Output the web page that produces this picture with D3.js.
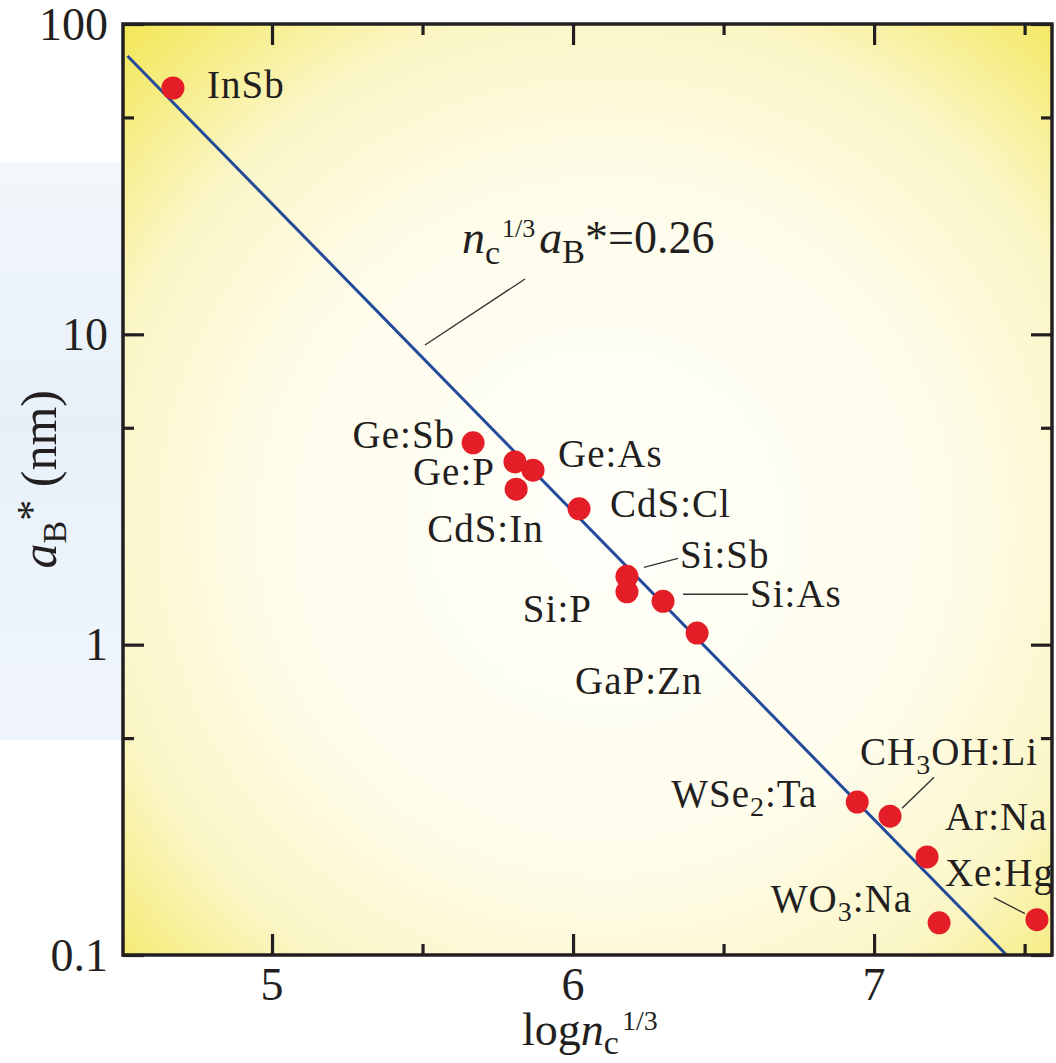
<!DOCTYPE html>
<html>
<head>
<meta charset="utf-8">
<script src="https://cdn.jsdelivr.net/npm/d3@7"></script>
<style>
  html, body { margin: 0; padding: 0; background: #fff; }
  svg, svg text { font-family: "Liberation Serif", "Times New Roman", "DejaVu Serif", serif; }
</style>
</head>
<body>
<svg id="chart" width="1056" height="1063"></svg>
<script>
// values
const materials = ["InSb", "Ge:Sb", "Ge:P", "Ge:As", "CdS:In", "CdS:Cl", "Si:Sb", "Si:P",
    "Si:As", "GaP:Zn", "WSe_2:Ta", "CH_3OH:Li", "Ar:Na", "WO_3:Na", "Xe:Hg"];
const logNc = [4.671, 5.668, 5.807, 5.867, 5.811, 6.020, 6.179, 6.179,
    6.299, 6.412, 6.944, 7.053, 7.176, 7.216, 7.541];
const aB = [62.2, 4.47, 3.88, 3.65, 3.17, 2.74, 1.66, 1.48,
    1.38, 1.09, 0.311, 0.280, 0.207, 0.127, 0.130];

// fit line n_c^(1/3) a_B* = 0.26, two end points
const fitX = [4.52, 7.44];
const fitY = [78.9, 0.1];

const xMajor = [5, 6, 7];
const xMinor = [5.5, 6.5, 7.5];
const yMajor = [0.1, 1, 10, 100];
const yMinor = [0.5, 5, 50];

// label placement relative to each point (px)
const labelPos = {
    "InSb": {dx: 34, dy: 10, anchor: "start"},
    "Ge:Sb": {dx: -18, dy: 5, anchor: "end"},
    "Ge:P": {dx: -20, dy: 23, anchor: "end"},
    "Ge:As": {dx: 25, dy: -3, anchor: "start"},
    "CdS:In": {dx: -89, dy: 53, anchor: "start"},
    "CdS:Cl": {dx: 31, dy: 8, anchor: "start"},
    "Si:Sb": {dx: 53, dy: -8, anchor: "start", lead: [17, -9, 51, -18]},
    "Si:P": {dx: -35, dy: 30, anchor: "end"},
    "Si:As": {dx: 87, dy: 6, anchor: "start", lead: [20, -7, 85, -7]},
    "GaP:Zn": {dx: -122, dy: 61, anchor: "start"},
    "WSe_2:Ta": {dx: -40, dy: 5, anchor: "end"},
    "CH_3OH:Li": {dx: -30, dy: -51, anchor: "start", lead: [12, -8, 44, -39]},
    "Ar:Na": {dx: 18, dy: -27, anchor: "start"},
    "WO_3:Na": {dx: -27, dy: -11, anchor: "end"},
    "Xe:Hg": {dx: -92, dy: -34, anchor: "start", lead: [-43, -22, -12, -6]}
};

const width = 1056;
const height = 1063;
const plotLeft = 123;
const plotRight = 1052;
const plotTop = 24;
const plotBottom = 955;
const ink = "#231f20";
const serif = "'Liberation Serif', 'Times New Roman', 'DejaVu Serif', serif";

const x = d3.scaleLinear()
    .domain([4.505, 7.591])
    .range([plotLeft, plotRight]);

const y = d3.scaleLog()
    .domain([0.1, 100])
    .range([plotBottom, plotTop]);

const svg = d3.select("#chart")
    .attr("viewBox", [0, 0, width, height])
    .attr("font-family", serif);

const defs = svg.append("defs");

const bg = defs.append("radialGradient")
    .attr("id", "bgGrad")
    .attr("cx", "52%").attr("cy", "54%").attr("r", "74%");
bg.append("stop").attr("offset", "0%").attr("stop-color", "#fffffb");
bg.append("stop").attr("offset", "50%").attr("stop-color", "#fefcea");
bg.append("stop").attr("offset", "75%").attr("stop-color", "#fbf6c6");
bg.append("stop").attr("offset", "100%").attr("stop-color", "#f3e75a");

const blue = defs.append("linearGradient")
    .attr("id", "blueGrad")
    .attr("x1", 0).attr("y1", 0).attr("x2", 0).attr("y2", 1);
blue.append("stop").attr("offset", "0%").attr("stop-color", "#f3f7fc");
blue.append("stop").attr("offset", "45%").attr("stop-color", "#e7f0f9");
blue.append("stop").attr("offset", "100%").attr("stop-color", "#f1f6fc");

// pale blue band behind the y axis
svg.append("rect")
    .attr("x", 0).attr("y", 162)
    .attr("width", plotLeft).attr("height", 578)
    .attr("fill", "url(#blueGrad)");

svg.append("rect")
    .attr("x", plotLeft).attr("y", plotTop)
    .attr("width", plotRight - plotLeft).attr("height", plotBottom - plotTop)
    .attr("fill", "url(#bgGrad)");

// ticks on all four sides, pointing inward
function tickAxis(axis, values, size, transform) {
    svg.append("g")
        .attr("transform", transform)
        .call(axis.tickValues(values).tickSize(-size).tickFormat(""))
        .call(g => g.select(".domain").remove())
        .call(g => g.selectAll("line").attr("stroke", ink).attr("stroke-width", 3.2));
}
tickAxis(d3.axisBottom(x), xMajor, 21, `translate(0,${plotBottom})`);
tickAxis(d3.axisBottom(x), xMinor, 11, `translate(0,${plotBottom})`);
tickAxis(d3.axisTop(x), xMajor, 21, `translate(0,${plotTop})`);
tickAxis(d3.axisTop(x), xMinor, 11, `translate(0,${plotTop})`);
tickAxis(d3.axisLeft(y), yMajor, 21, `translate(${plotLeft},0)`);
tickAxis(d3.axisLeft(y), yMinor, 11, `translate(${plotLeft},0)`);
tickAxis(d3.axisRight(y), yMajor, 21, `translate(${plotRight},0)`);
tickAxis(d3.axisRight(y), yMinor, 11, `translate(${plotRight},0)`);

// tick labels
svg.append("g")
    .selectAll("text")
    .data(xMajor)
    .join("text")
    .attr("font-family", serif)
    .attr("x", d => x(d))
    .attr("y", 1000)
    .attr("text-anchor", "middle")
    .attr("font-size", 46)
    .attr("fill", ink)
    .text(d => d);

svg.append("g")
    .selectAll("text")
    .data(yMajor)
    .join("text")
    .attr("font-family", serif)
    .attr("x", 108)
    .attr("y", d => y(d))
    .attr("dy", "0.34em")
    .attr("text-anchor", "end")
    .attr("font-size", 46)
    .attr("fill", ink)
    .text(d => d);

// fit line
svg.append("path")
    .datum(d3.zip(fitX, fitY))
    .attr("fill", "none")
    .attr("stroke", "#234a9b")
    .attr("stroke-width", 3)
    .attr("d", d3.line().x(d => x(d[0])).y(d => y(d[1])));

// frame
svg.append("rect")
    .attr("x", plotLeft).attr("y", plotTop)
    .attr("width", plotRight - plotLeft).attr("height", plotBottom - plotTop)
    .attr("fill", "none")
    .attr("stroke", ink)
    .attr("stroke-width", 3.5);

// points
const points = materials.map((m, i) => ({name: m, x: logNc[i], y: aB[i]}));

svg.append("g")
    .attr("fill", "#e41e26")
    .selectAll("circle")
    .data(points)
    .join("circle")
    .attr("cx", d => x(d.x))
    .attr("cy", d => y(d.y))
    .attr("r", 11.5);

// leader lines
svg.append("g")
    .attr("stroke", "#333")
    .attr("stroke-width", 1.4)
    .selectAll("line")
    .data(points.filter(d => labelPos[d.name].lead))
    .join("line")
    .attr("x1", d => x(d.x) + labelPos[d.name].lead[0])
    .attr("y1", d => y(d.y) + labelPos[d.name].lead[1])
    .attr("x2", d => x(d.x) + labelPos[d.name].lead[2])
    .attr("y2", d => y(d.y) + labelPos[d.name].lead[3]);

// point labels, "_3" means a one-character subscript
const labels = svg.append("g")
    .attr("font-size", 39)
    .attr("letter-spacing", 1)
    .attr("fill", ink)
    .selectAll("text")
    .data(points)
    .join("text")
    .attr("font-family", serif)
    .attr("x", d => x(d.x) + labelPos[d.name].dx)
    .attr("y", d => y(d.y) + labelPos[d.name].dy)
    .attr("text-anchor", d => labelPos[d.name].anchor);

labels.each(function(d) {
    const t = d3.select(this);
    const parts = d.name.split("_");
    t.append("tspan").text(parts[0]);
    if (parts.length > 1) {
        t.append("tspan").attr("font-size", 28).attr("dy", 9).text(parts[1][0]);
        t.append("tspan").attr("dy", -9).text(parts[1].slice(1));
    }
});

// equation annotation
svg.append("line")
    .attr("x1", 525).attr("y1", 279)
    .attr("x2", 425).attr("y2", 345)
    .attr("stroke", "#333")
    .attr("stroke-width", 1.4);

const eq = svg.append("text")
    .attr("font-family", serif)
    .attr("x", 462).attr("y", 253)
    .attr("font-size", 46)
    .attr("fill", ink);
eq.append("tspan").attr("font-style", "italic").text("n");
eq.append("tspan").attr("font-size", 34).attr("dy", 11).text("c");
eq.append("tspan").attr("font-size", 26).attr("dy", -27).attr("dx", 2).text("1/3");
eq.append("tspan").attr("font-style", "italic").attr("dy", 16).attr("dx", 4).text("a");
eq.append("tspan").attr("font-size", 34).attr("dy", 10).text("B");
eq.append("tspan").attr("dy", -10).text("*=0.26");

// x axis title
const xt = svg.append("text")
    .attr("font-family", serif)
    .attr("x", 522).attr("y", 1045)
    .attr("font-size", 46)
    .attr("fill", ink);
xt.append("tspan").text("log");
xt.append("tspan").attr("font-style", "italic").text("n");
xt.append("tspan").attr("font-size", 34).attr("dy", 9).text("c");
xt.append("tspan").attr("font-size", 28).attr("dy", -24).attr("dx", 3).text("1/3");

// y axis title
const yt = svg.append("text")
    .attr("font-family", serif)
    .attr("transform", "translate(56,390) rotate(-90)")
    .attr("text-anchor", "end")
    .attr("font-size", 50)
    .attr("fill", ink);
yt.append("tspan").attr("font-style", "italic").text("a");
yt.append("tspan").attr("font-size", 34).attr("dy", 10).text("B");
yt.append("tspan").attr("font-size", 42).attr("dy", -20).text("*");
yt.append("tspan").attr("dy", 10).text(" (nm)");
</script>
</body>
</html>
